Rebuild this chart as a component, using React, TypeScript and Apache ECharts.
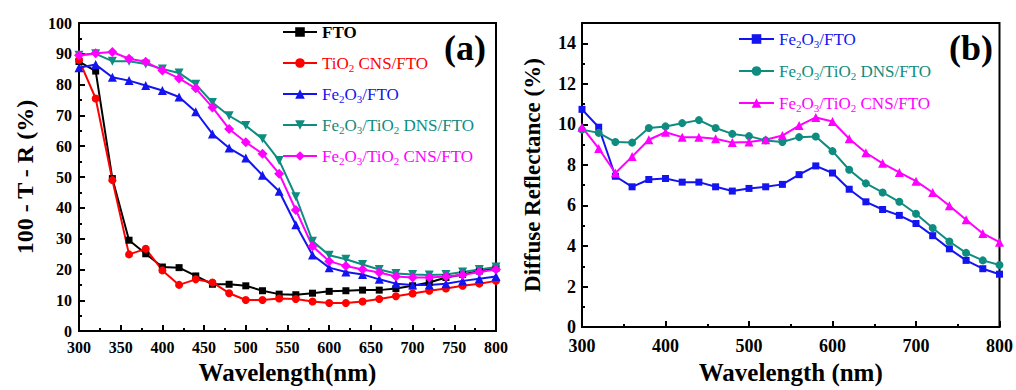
import React, { useEffect, useRef } from "react";
import * as echarts from "echarts";

const wavelengths = [300, 320, 340, 360, 380, 400, 420, 440, 460, 480, 500, 520, 540, 560, 580, 600, 620, 640, 660, 680, 700, 720, 740, 760, 780, 800];

// Panel (a): 100 - T - R (%)
const aFTO = [87.5, 84.4, 49.5, 29.5, 25.1, 20.8, 20.6, 17.9, 15.2, 15.2, 14.7, 13.1, 12.0, 11.8, 12.3, 12.9, 13.1, 13.3, 13.3, 13.8, 14.7, 15.8, 17.4, 18.4, 19.5, 20.4];
const aTiO2 = [88.0, 75.5, 49.0, 24.9, 26.7, 19.7, 15.0, 16.8, 15.8, 12.3, 10.1, 10.1, 10.6, 10.4, 9.6, 9.1, 9.1, 9.6, 10.4, 11.3, 12.2, 13.1, 13.8, 14.7, 15.4, 16.3];
const aFe2O3 = [85.5, 86.5, 82.4, 81.3, 79.7, 78.1, 76.0, 71.2, 64.0, 59.4, 56.2, 50.6, 45.4, 34.5, 24.7, 20.6, 19.2, 18.4, 16.8, 15.4, 15.0, 15.0, 15.4, 16.3, 17.0, 17.7];
const aDNS = [89.5, 90.0, 87.6, 87.6, 86.7, 85.1, 83.8, 80.1, 74.2, 69.9, 66.7, 62.4, 55.4, 43.6, 29.2, 24.6, 23.3, 21.6, 20.0, 18.7, 18.4, 18.2, 18.4, 19.2, 20.0, 20.8];
const aCNS = [89.5, 90.2, 90.6, 88.4, 87.4, 84.6, 82.0, 78.8, 72.6, 65.6, 61.3, 57.6, 51.1, 39.3, 27.5, 22.7, 21.1, 20.0, 19.0, 17.7, 17.4, 17.4, 17.7, 18.2, 19.2, 20.0];

// Panel (b): Diffuse Reflectance (%)
const bFe2O3 = [10.74, 9.86, 7.44, 6.92, 7.28, 7.33, 7.15, 7.15, 6.92, 6.71, 6.84, 6.92, 7.04, 7.52, 7.95, 7.6, 6.8, 6.18, 5.8, 5.51, 5.11, 4.51, 3.86, 3.29, 2.88, 2.61];
const bDNS = [9.74, 9.58, 9.13, 9.1, 9.82, 9.9, 10.06, 10.21, 9.82, 9.53, 9.42, 9.21, 9.13, 9.37, 9.4, 8.68, 7.76, 7.09, 6.64, 6.18, 5.59, 4.89, 4.22, 3.66, 3.29, 3.06];
const bCNS = [9.86, 8.81, 7.6, 8.41, 9.24, 9.61, 9.37, 9.37, 9.29, 9.1, 9.13, 9.24, 9.45, 9.94, 10.34, 10.14, 9.29, 8.6, 8.08, 7.63, 7.2, 6.64, 5.99, 5.3, 4.62, 4.19];

const BLACK = "#000000";
const RED = "#ff0000";
const BLUE = "#1414f0";
const TEAL = "#0f8c80";
const MAGENTA = "#ff00ff";

const FONT = "Liberation Serif";

// legend labels with rich-text subscripts
const labelRich: Record<string, string> = {
  "FTO": "FTO",
  "TiO2 CNS/FTO": "TiO{s|2} CNS/FTO",
  "Fe2O3/FTO": "Fe{s|2}O{s|3}/FTO",
  "Fe2O3/TiO2 DNS/FTO": "Fe{s|2}O{s|3}/TiO{s|2} DNS/FTO",
  "Fe2O3/TiO2 CNS/FTO": "Fe{s|2}O{s|3}/TiO{s|2} CNS/FTO",
  "(b) Fe2O3/FTO": "Fe{s|2}O{s|3}/FTO",
  "(b) Fe2O3/TiO2 DNS/FTO": "Fe{s|2}O{s|3}/TiO{s|2} DNS/FTO",
  "(b) Fe2O3/TiO2 CNS/FTO": "Fe{s|2}O{s|3}/TiO{s|2} CNS/FTO",
};

const pairs = (ys: number[]) => wavelengths.map((x, i) => [x, ys[i]]);

function lineSeries(name: string, ys: number[], color: string, symbol: string, size: number, axis: number, rotate = 0) {
  return {
    type: "line",
    name,
    data: pairs(ys),
    xAxisIndex: axis,
    yAxisIndex: axis,
    symbol,
    symbolSize: size,
    symbolRotate: rotate,
    smooth: false,
    lineStyle: { color, width: 2 },
    itemStyle: { color },
    emphasis: { disabled: true },
  };
}

const axisCommon = {
  axisLine: { show: true, onZero: false, lineStyle: { color: BLACK, width: 2 } },
  axisTick: { show: true, inside: true, length: 6, lineStyle: { color: BLACK, width: 2 } },
  minorTick: { show: true, splitNumber: 2, length: 3, lineStyle: { color: BLACK, width: 2 } },
  splitLine: { show: false },
};

export default function App() {
  const ref = useRef<HTMLDivElement>(null);
  useEffect(() => {
    if (!ref.current) return;
    const chart = echarts.init(ref.current, null, { renderer: "svg" });
    const legendText = {
      fontFamily: FONT,
      fontSize: 17,
      lineHeight: 20,
      rich: {
        s: { fontSize: 11, lineHeight: 11, verticalAlign: "bottom", fontFamily: FONT },
      },
    };
    chart.setOption({
      animation: false,
      backgroundColor: "#ffffff",
      textStyle: { fontFamily: FONT },
      grid: [
        { left: 79, top: 23, width: 417, height: 311, show: true, borderColor: BLACK, borderWidth: 2, containLabel: false },
        { left: 582, top: 23, width: 420, height: 311, show: true, borderColor: BLACK, borderWidth: 2, containLabel: false },
      ],
      xAxis: [
        {
          type: "value", gridIndex: 0, min: 300, max: 800, interval: 50,
          ...axisCommon,
          axisLabel: { color: BLACK, fontFamily: FONT, fontWeight: "bold", fontSize: 16, margin: 8 },
          name: "Wavelength(nm)", nameLocation: "middle", nameGap: 20,
          nameTextStyle: { color: BLACK, fontFamily: FONT, fontWeight: "bold", fontSize: 25 },
        },
        {
          type: "value", gridIndex: 1, min: 300, max: 800, interval: 100,
          ...axisCommon,
          axisLabel: { color: BLACK, fontFamily: FONT, fontWeight: "bold", fontSize: 18, margin: 10 },
          name: "Wavelength (nm)", nameLocation: "middle", nameGap: 25,
          nameTextStyle: { color: BLACK, fontFamily: FONT, fontWeight: "bold", fontSize: 25 },
        },
      ],
      yAxis: [
        {
          type: "value", gridIndex: 0, min: 0, max: 100, interval: 10,
          ...axisCommon,
          axisLabel: { color: BLACK, fontFamily: FONT, fontWeight: "bold", fontSize: 16, margin: 7 },
          name: "100 - T - R (%)", nameLocation: "middle", nameGap: 42, nameRotate: 90,
          nameTextStyle: { color: BLACK, fontFamily: FONT, fontWeight: "bold", fontSize: 24 },
        },
        {
          type: "value", gridIndex: 1, min: 0, max: 15, interval: 2,
          ...axisCommon,
          axisLabel: {
            color: BLACK, fontFamily: FONT, fontWeight: "bold", fontSize: 18, margin: 6,
            formatter: (v: number) => (v % 2 === 0 ? String(v) : ""),
          },
          name: "Diffuse Reflectance (%)", nameLocation: "middle", nameGap: 38, nameRotate: 90,
          nameTextStyle: { color: BLACK, fontFamily: FONT, fontWeight: "bold", fontSize: 23 },
        },
      ],
      legend: [
        {
          orient: "vertical", left: 277, top: 17, itemWidth: 34, itemHeight: 12, itemGap: 11,
          selectedMode: false,
          textStyle: legendText,
          formatter: (n: string) => labelRich[n] || n,
          data: [
            { name: "FTO", textStyle: { color: BLACK, fontWeight: "bold" } },
            { name: "TiO2 CNS/FTO", textStyle: { color: RED } },
            { name: "Fe2O3/FTO", textStyle: { color: BLUE } },
            { name: "Fe2O3/TiO2 DNS/FTO", textStyle: { color: TEAL } },
            { name: "Fe2O3/TiO2 CNS/FTO", textStyle: { color: MAGENTA } },
          ],
        },
        {
          orient: "vertical", left: 733, top: 24, itemWidth: 35, itemHeight: 12, itemGap: 12,
          selectedMode: false,
          textStyle: legendText,
          formatter: (n: string) => labelRich[n] || n,
          data: [
            { name: "(b) Fe2O3/FTO", textStyle: { color: BLUE } },
            { name: "(b) Fe2O3/TiO2 DNS/FTO", textStyle: { color: TEAL } },
            { name: "(b) Fe2O3/TiO2 CNS/FTO", textStyle: { color: MAGENTA } },
          ],
        },
      ],
      graphic: [
        { type: "text", left: 444, top: 30, style: { text: "(a)", font: `bold 36px "${FONT}"`, fill: BLACK } },
        { type: "text", left: 949, top: 30, style: { text: "(b)", font: `bold 36px "${FONT}"`, fill: BLACK } },
      ],
      series: [
        lineSeries("FTO", aFTO, BLACK, "rect", 7, 0),
        lineSeries("TiO2 CNS/FTO", aTiO2, RED, "circle", 8, 0),
        lineSeries("Fe2O3/FTO", aFe2O3, BLUE, "triangle", 9, 0),
        lineSeries("Fe2O3/TiO2 DNS/FTO", aDNS, TEAL, "triangle", 9, 0, 180),
        lineSeries("Fe2O3/TiO2 CNS/FTO", aCNS, MAGENTA, "diamond", 10, 0),
        lineSeries("(b) Fe2O3/FTO", bFe2O3, BLUE, "rect", 7, 1),
        lineSeries("(b) Fe2O3/TiO2 DNS/FTO", bDNS, TEAL, "circle", 8, 1),
        lineSeries("(b) Fe2O3/TiO2 CNS/FTO", bCNS, MAGENTA, "triangle", 9, 1),
      ],
    });
    return () => chart.dispose();
  }, []);
  return (
    <div
      ref={ref}
      style={{ position: "absolute", left: 0, top: 0, width: 1016, height: 390, background: "#fff" }}
    />
  );
}
